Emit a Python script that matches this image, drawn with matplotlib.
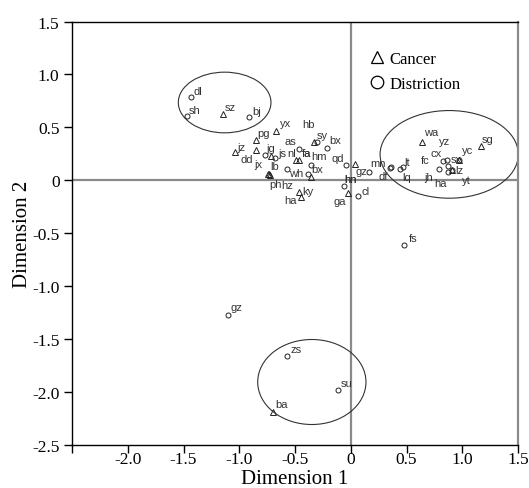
import matplotlib
matplotlib.use("Agg")
import matplotlib.pyplot as plt
from matplotlib.patches import Ellipse
from matplotlib.lines import Line2D

# cancer points (triangles)
cancer_names = ["sz", "yx", "pg", "hb", "jz", "dd", "js", "fa", "fa", "jx", "ph", "hz",
                "bx", "ky", "ha", "hn", "ga", "wa", "sg", "yc", "yt", "ba"]
cancer_x = [-1.148, -0.670, -0.850, -0.330, -1.038, -0.852, -0.717, -0.491, -0.467, -0.739, -0.735, -0.726,
            -0.357, -0.464, -0.446, 0.038, -0.022, 0.636, 1.168, 0.971, 0.905, -0.695]
cancer_y = [0.628, 0.470, 0.382, 0.364, 0.264, 0.285, 0.234, 0.189, 0.189, 0.057, 0.057, 0.052,
            0.036, -0.111, -0.161, 0.156, -0.118, 0.364, 0.326, 0.194, 0.093, -2.189]

# district points (circles)
district_names = ["dl", "sh", "bj", "sy", "bx", "as", "jg", "nl", "hm", "lb", "wh", "qd", "hn", "cl",
                  "gz", "mn", "df", "lq", "lt", "cx", "yz", "sx", "fc", "jh", "ha", "lz", "fs",
                  "gz", "zs", "su"]
district_x = [-1.435, -1.466, -0.910, -0.307, -0.213, -0.468, -0.766, -0.678, -0.357, -0.574, -0.383,
              -0.043, -0.061, 0.068, 0.166, 0.361, 0.352, 0.442, 0.466, 0.827, 0.863, 0.971, 0.789,
              0.875, 0.875, 0.905, 0.480, -1.098, -0.574, -0.112]
district_y = [0.791, 0.606, 0.602, 0.364, 0.309, 0.295, 0.238, 0.214, 0.149, 0.109, 0.061, 0.146,
              -0.055, -0.146, 0.077, 0.125, 0.118, 0.109, 0.130, 0.184, 0.194, 0.194, 0.109, 0.134,
              0.077, 0.093, -0.609, -1.270, -1.664, -1.985]

# label offsets in pixels (dx right, dy down)
cancer_offsets = [(7.3, -6.7), (10, -7.4), (7.3, -7), (-5.7, -17.3), (6.7, -5.8), (-9, 8.7),
                  (11.2, -2.7), (10.7, -7.5), (8, -7.5), (-10, -10.5), (7.2, 9.5), (17.2, 10),
                  (6.3, -7.7), (8.7, -0.6), (-11, 2.2), (-4.3, 15), (-9, 7.7), (9.3, -9.7),
                  (6.7, -7), (8.7, -9.3), (14.3, 10), (8.4, -7.6)]
district_offsets = [(7.6, -5.4), (7.7, -6.6), (7.4, -6), (5.8, -7), (8, -7.1), (-8.6, -7.6),
                    (5.7, -7), (16.8, -4.8), (8, -8.4), (-11.7, -2.7), (-12, -1), (-8.3, -6.7),
                    (6.7, -7.3), (7.4, -4.7), (-7.6, -1.6), (-12.7, -4.3), (-7, 8), (6.7, 8.3),
                    (4.6, -5), (-7, -7.7), (-2, -18.3), (-2.3, -1), (-13.7, -9), (-19.5, 10.5),
                    (-7.5, 11), (7.3, -0.7), (8.4, -7), (8.4, -7.7), (9.3, -7.7), (8.4, -7.7)]

xticks = [-2.5, -2.0, -1.5, -1.0, -0.5, 0, 0.5, 1.0, 1.5]
xticklabels = ["", "-2.0", "-1.5", "-1.0", "-0.5", "0", "0.5", "1.0", "1.5"]
yticks = [-2.5, -2.0, -1.5, -1.0, -0.5, 0, 0.5, 1.0, 1.5]
yticklabels = ["-2.5", "-2.0", "-1.5", "-1.0", "-0.5", "0", "0.5", "1.0", "1.5"]

serif = "Liberation Serif"
sans = "Liberation Sans"
px = 72 / 100

fig = plt.figure(figsize=(5.29, 4.89), dpi=100)
ax = fig.add_axes([72 / 529, 1 - 446 / 489, 446 / 529, 423.5 / 489])
ax.set_xlim(-2.5, 1.5)
ax.set_ylim(-2.5, 1.5)

ax.axhline(0, color="#8a8a8a", lw=1.6, zorder=1)
ax.axvline(0, color="#8a8a8a", lw=1.6, zorder=1)

ax.plot(cancer_x, cancer_y, ls="none", marker="^", ms=3.8, mfc="none", mec="#222222", mew=0.7, zorder=3)
ax.plot(district_x, district_y, ls="none", marker="o", ms=3.6, mfc="none", mec="#222222", mew=0.7, zorder=3)

for names, xs, ys, offs in [(cancer_names, cancer_x, cancer_y, cancer_offsets),
                            (district_names, district_x, district_y, district_offsets)]:
    for n, x, y, (dx, dy) in zip(names, xs, ys, offs):
        ax.annotate(n, (x, y), xytext=(dx * px, -dy * px), textcoords="offset points",
                    ha="center", va="center", fontsize=8, family=sans, color="#333333")

for (cx, cy, w, h) in [(-1.131, 0.735, 0.831, 0.573), (0.883, 0.245, 1.24, 0.828),
                       (-0.349, -1.905, 0.971, 0.803)]:
    ax.add_patch(Ellipse((cx, cy), w, h, fill=False, ec="#333333", lw=0.8, zorder=2))

ax.set_xticks(xticks)
ax.set_xticklabels(xticklabels, family=serif, fontsize=12.5)
ax.set_yticks(yticks)
ax.set_yticklabels(yticklabels, family=serif, fontsize=12.5)
ax.tick_params(axis="x", direction="out", length=6, width=1, pad=-2)
ax.tick_params(axis="y", direction="out", length=6, width=1, pad=3)

for s in ["left", "bottom", "top"]:
    ax.spines[s].set_color("black")
    ax.spines[s].set_linewidth(1)
ax.spines["right"].set_color("#8a8a8a")
ax.spines["right"].set_linewidth(1.6)

ax.set_xlabel("Dimension 1", family=serif, fontsize=15, labelpad=2)
ax.set_ylabel("Dimension 2", family=serif, fontsize=15, labelpad=0)

handles = [Line2D([], [], ls="none", marker="^", ms=9, mfc="none", mec="black", mew=0.9),
           Line2D([], [], ls="none", marker="o", ms=9, mfc="none", mec="black", mew=0.9)]
ax.legend(handles, ["Cancer", "Distriction"], loc="upper left", bbox_to_anchor=(0.65, 0.946),
          frameon=False, prop={"family": serif, "size": 12}, handlelength=1.0,
          handletextpad=0.25, labelspacing=0.55, borderaxespad=0)

fig.savefig("out.png", dpi=100)
